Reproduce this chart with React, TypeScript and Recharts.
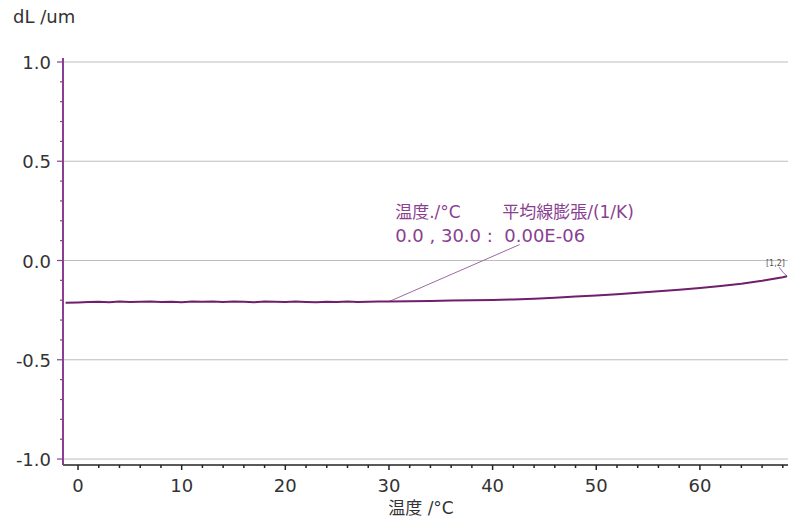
import React from 'react'
import { LineChart, Line, XAxis, YAxis, ReferenceLine, ReferenceDot } from 'recharts'

// temperature (°C) and length change dL (um)
const temps = [
  -1.2, 0, 1, 2, 3, 4, 5, 6, 7, 8, 9, 10, 11, 12, 13, 14, 15, 16, 17, 18, 19, 20, 21, 22, 23, 24, 25,
  26, 27, 28, 29, 30, 32, 34, 36, 38, 40, 42, 44, 46, 48, 50, 52, 54, 56, 58, 60, 62, 64, 66, 67, 68,
  68.4,
]
const dl = [
  -0.213, -0.211, -0.209, -0.208, -0.21, -0.207, -0.209, -0.208, -0.206, -0.209, -0.208, -0.21, -0.207,
  -0.208, -0.206, -0.209, -0.207, -0.208, -0.21, -0.206, -0.208, -0.209, -0.207, -0.209, -0.21, -0.208,
  -0.209, -0.207, -0.209, -0.208, -0.207, -0.206, -0.205, -0.204, -0.202, -0.2, -0.199, -0.196, -0.192,
  -0.187, -0.181, -0.176, -0.17, -0.163, -0.155, -0.147, -0.138, -0.128, -0.117, -0.102, -0.093, -0.084,
  -0.079,
]

const xTicks = [
  0, 2, 4, 6, 8, 10, 12, 14, 16, 18, 20, 22, 24, 26, 28, 30, 32, 34, 36, 38, 40, 42, 44, 46, 48, 50, 52,
  54, 56, 58, 60, 62, 64, 66, 68,
]
const yTicks = [
  -1.0, -0.9, -0.8, -0.7, -0.6, -0.5, -0.4, -0.3, -0.2, -0.1, 0.0, 0.1, 0.2, 0.3, 0.4, 0.5, 0.6, 0.7, 0.8,
  0.9, 1.0,
]
const gridValues = [-1.0, -0.5, 0.0, 0.5, 1.0]

// mean linear expansion annotation
const noteLine1 = '温度./°C'
const noteLine1b = '平均線膨張/(1/K)'
const noteLine2 = '0.0 , 30.0 :  0.00E-06'
const leaderFrom = { x: 30, y: -0.207 }
const leaderTo = { x: 42.6, y: 0.08 }
const curveTag = '[1,2]'

const data = temps.map((t, i) => ({ t, dl: dl[i] }))

const FONT = '"DejaVu Sans", Verdana, sans-serif'
const JP = '"DejaVu Sans", "Noto Sans CJK JP", sans-serif'
const PURPLE = '#8a3f92'

function XTick(props: any) {
  const { x, y, payload } = props
  const major = payload.value % 10 === 0
  return (
    <g>
      <line x1={x} x2={x} y1={y} y2={y + (major ? 5 : 3)} stroke="#222" strokeWidth={1.5} />
      {major && (
        <text x={x} y={y + 27} textAnchor="middle" fontFamily={FONT} fontSize={18} fill="#333">
          {payload.value}
        </text>
      )}
    </g>
  )
}

function YTick(props: any) {
  const { x, y, payload } = props
  const v = payload.value
  const major = Math.abs(v * 2 - Math.round(v * 2)) < 1e-6
  return (
    <g>
      <line x1={x - (major ? 6 : 3)} x2={x} y1={y} y2={y} stroke={PURPLE} strokeWidth={1.2} />
      {major && (
        <text x={x - 12} y={y + 7} textAnchor="end" fontFamily={FONT} fontSize={18} fill="#333">
          {v.toFixed(1)}
        </text>
      )}
    </g>
  )
}

function Note(props: any) {
  const { cx, cy } = props
  return (
    <g fill={PURPLE} fontFamily={JP} fontSize={17}>
      <text x={cx} y={cy}>{noteLine1}</text>
      <text x={cx + 107} y={cy}>{noteLine1b}</text>
      <text x={cx} y={cy + 24} fontSize={18} style={{ whiteSpace: 'pre' }}>
        {noteLine2}
      </text>
    </g>
  )
}

function Tag(props: any) {
  const { cx, cy } = props
  return (
    <g>
      <polyline points={`${cx - 8},${cy - 9} ${cx - 4},${cy - 4} ${cx},${cy}`} fill="none" stroke="#8a3f92" strokeWidth={0.8} />
      <text x={cx - 2} y={cy - 10} textAnchor="end" fontFamily={FONT} fontSize={8} fill="#555">
        {curveTag}
      </text>
    </g>
  )
}

export default function App() {
  return (
    <div style={{ position: 'fixed', left: 0, top: 0, width: 788, height: 519, background: '#fff' }}>
      <div style={{ position: 'absolute', left: 13, top: 6, fontFamily: FONT, fontSize: 18, color: '#333' }}>
        dL /um
      </div>
      <div
        style={{
          position: 'absolute',
          left: 0,
          width: 842,
          top: 494,
          textAlign: 'center',
          fontFamily: JP,
          fontSize: 17,
          color: '#333',
        }}
      >
        温度 /°C
      </div>
      <LineChart width={788} height={519} data={data} margin={{ top: 58, right: 0, bottom: 24, left: 0 }}>
        {gridValues.map((g) => (
          <ReferenceLine key={g} y={g} stroke="#bdbdbd" strokeWidth={1} />
        ))}
        <XAxis
          dataKey="t"
          type="number"
          domain={[-1.45, 68.5]}
          ticks={xTicks}
          allowDataOverflow
          height={30}
          tickSize={0}
          tickMargin={0}
          tickLine={false}
          tick={<XTick />}
          axisLine={{ stroke: '#222', strokeWidth: 1.5 }}
          interval={0}
        />
        <YAxis
          type="number"
          domain={[-1.03, 1.02]}
          ticks={yTicks}
          allowDataOverflow
          width={63}
          tickSize={0}
          tickMargin={0}
          tickLine={false}
          tick={<YTick />}
          axisLine={{ stroke: PURPLE, strokeWidth: 2 }}
          interval={0}
        />
        <ReferenceLine
          segment={[leaderFrom, leaderTo]}
          stroke="#9a6aa0"
          strokeWidth={1}
          ifOverflow="visible"
        />
        <Line
          type="linear"
          dataKey="dl"
          stroke="#6f1f6c"
          strokeWidth={2}
          dot={false}
          isAnimationActive={false}
        />
        <ReferenceDot x={30.6} y={0.212} r={0} shape={<Note />} ifOverflow="visible" />
        <ReferenceDot x={68.4} y={-0.079} r={0} shape={<Tag />} ifOverflow="visible" />
      </LineChart>
    </div>
  )
}
